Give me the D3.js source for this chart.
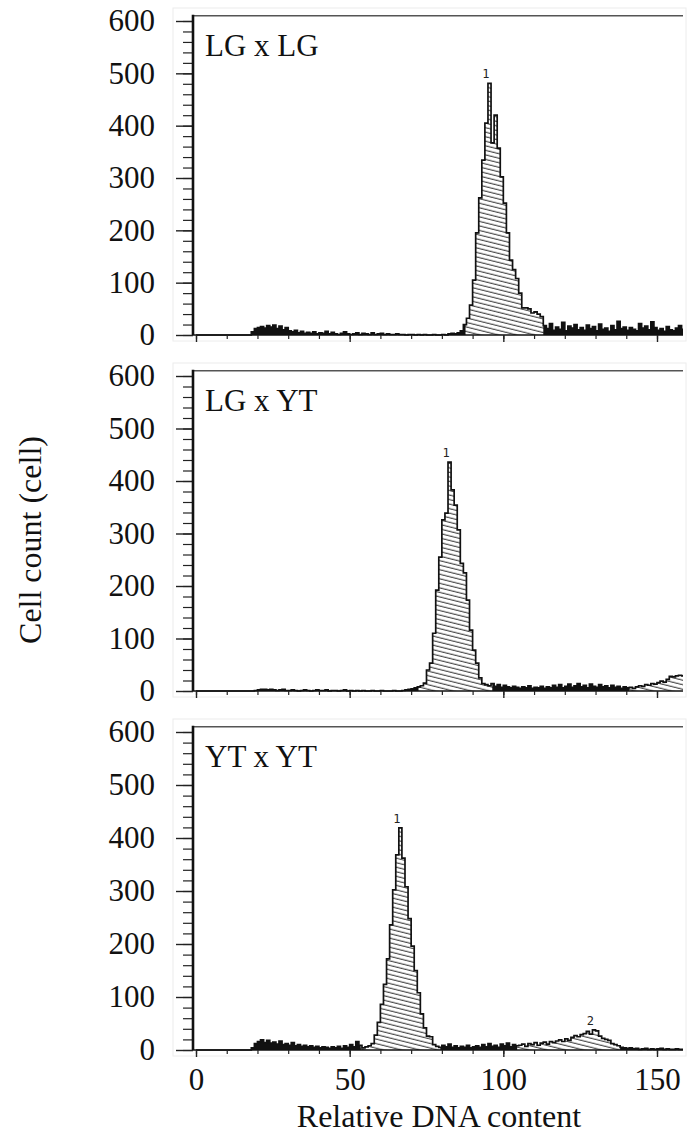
<!DOCTYPE html>
<html>
<head>
<meta charset="utf-8">
<script src="https://cdn.jsdelivr.net/npm/d3@7/dist/d3.min.js"></script>
<style>
  body { margin: 0; background: #fff; }
  svg text { font-family: "Liberation Serif", "Times New Roman", serif; fill: #111; }
</style>
</head>
<body>
<svg id="chart" width="694" height="1137"></svg>
<script>
// cell counts per channel of relative DNA content (channel 0..158)
const countsLGxLG = [
  0,0,0,0,0,0,0,0,0,0,
  0,0,0,0,0,0,0,0,6,12,
  14,16,13,18,15,19,12,17,10,14,
  8,6,9,4,7,3,5,3,6,2,
  4,3,7,2,5,2,1,3,6,2,
  1,2,4,1,3,2,1,4,1,2,
  3,1,2,1,1,2,1,1,0,1,
  1,0,1,0,1,0,0,1,0,0,
  1,0,2,3,2,4,8,20,32,57,
  105,195,262,334,405,481,367,420,357,302,
  252,195,143,125,108,80,52,52,50,42,
  44,40,35,18,12,22,9,15,11,24,
  8,17,13,20,10,14,9,19,12,16,
  8,21,11,13,7,18,10,26,12,15,
  9,14,11,8,22,13,17,10,25,14,
  9,12,7,16,10,8,13,18,11
];
const countsLGxYT = [
  0,0,0,0,0,0,0,0,0,0,
  0,0,0,0,0,0,0,0,0,1,
  2,3,3,2,3,2,1,2,3,1,
  1,2,1,0,1,2,1,0,1,2,
  1,1,2,0,1,1,0,1,2,0,
  1,0,1,0,1,0,0,1,0,0,
  1,0,0,0,1,0,0,1,2,3,
  4,6,8,10,15,40,53,110,192,255,
  326,339,436,383,354,307,243,225,173,116,
  78,53,25,14,12,10,14,9,12,7,
  11,8,6,9,7,5,8,6,10,5,
  7,6,9,5,8,6,11,7,12,6,
  9,13,7,10,14,8,11,6,13,9,
  7,12,8,10,6,11,7,9,5,8,
  6,7,5,8,10,9,12,11,14,13,
  16,19,17,22,28,27,29,30,29
];
const countsYTxYT = [
  0,0,0,0,0,0,0,0,0,0,
  0,0,0,0,0,0,0,0,4,12,
  16,19,14,18,13,15,11,17,10,12,
  9,14,8,10,7,9,6,8,5,7,
  4,6,5,3,6,4,7,3,8,5,
  10,6,16,9,4,6,8,12,28,52,
  86,124,172,236,302,368,419,362,308,248,
  196,150,108,68,42,26,25,10,7,5,
  9,6,11,5,8,4,7,5,9,4,
  6,8,5,10,6,12,7,9,5,11,
  8,13,6,10,8,9,11,7,12,10,
  14,9,13,15,11,16,14,17,19,16,
  21,18,24,27,25,29,31,35,30,38,
  36,26,22,20,18,12,10,8,5,4,
  3,4,2,3,1,2,3,1,2,1,
  2,3,1,2,1,1,2,1,1
];

// gated (hatched) channel ranges
const gatesLGxLG = [[87.7, 113]];
const gatesLGxYT = [[72.4, 96.4], [141, 159]];
const gatesYTxYT = [[53.6, 79.5], [104.5, 138]];

// peak markers: label and channel
const markersLGxLG = [{ label: "1", ch: 95 }];
const markersLGxYT = [{ label: "1", ch: 82 }];
const markersYTxYT = [{ label: "1", ch: 66 }, { label: "2", ch: 129 }];

const panelNames = ["LG x LG", "LG x YT", "YT x YT"];
const yTicks = [0, 100, 200, 300, 400, 500, 600];
const xTicks = [0, 50, 100, 150];
const xTitle = "Relative DNA content";
const yTitle = "Cell count (cell)";

const panels = [
  { name: panelNames[0], counts: countsLGxLG, gates: gatesLGxLG, markers: markersLGxLG, y0: 335, y600: 21 },
  { name: panelNames[1], counts: countsLGxYT, gates: gatesLGxYT, markers: markersLGxYT, y0: 691, y600: 376 },
  { name: panelNames[2], counts: countsYTxYT, gates: gatesYTxYT, markers: markersYTxYT, y0: 1050, y600: 732 }
];

const svg = d3.select("#chart");
const axisX = 193;
const rightX = 683;

const x = d3.scaleLinear().domain([0, 150]).range([196, 657]);
const xMax = x.invert(rightX);

const defs = svg.append("defs");
defs.append("pattern")
  .attr("id", "hatch")
  .attr("patternUnits", "userSpaceOnUse")
  .attr("width", 16).attr("height", 4.4)
  .attr("patternTransform", "rotate(14)")
  .call(p => {
    p.append("rect").attr("width", 16).attr("height", 4.4).attr("fill", "#fff");
    p.append("line").attr("x1", 0).attr("x2", 16).attr("y1", 2).attr("y2", 2)
      .attr("stroke", "#2a2a2a").attr("stroke-width", 1);
  });

panels.forEach((p, pi) => {
  const y = d3.scaleLinear().domain([0, 600]).range([p.y0, p.y600]);
  const g = svg.append("g");

  // faint frame of the pasted panel
  g.append("rect")
    .attr("x", 173).attr("y", y(600) - 13)
    .attr("width", 513).attr("height", p.y0 - y(600) + 19)
    .attr("fill", "none").attr("stroke", "#ececec").attr("stroke-width", 1);

  const bins = p.counts.map((v, i) => ({ ch: i, v: v }));
  bins.push({ ch: Math.min(p.counts.length, xMax), v: p.counts[p.counts.length - 1] });

  const area = d3.area()
    .x(d => x(d.ch)).y0(y(0)).y1(d => y(d.v))
    .curve(d3.curveStepAfter);
  const line = d3.line()
    .x(d => x(d.ch)).y(d => y(d.v))
    .curve(d3.curveStepAfter);

  // clip to the plotting width
  const clipId = "plot" + pi;
  defs.append("clipPath").attr("id", clipId)
    .append("rect").attr("x", x(0)).attr("y", y(620)).attr("width", rightX - x(0)).attr("height", y(0) - y(620) + 1);

  const plot = g.append("g").attr("clip-path", `url(#${clipId})`);
  plot.append("path").attr("d", area(bins)).attr("fill", "#111");

  p.gates.forEach((gate, gi) => {
    const id = `gate${pi}_${gi}`;
    defs.append("clipPath").attr("id", id)
      .append("rect").attr("x", x(gate[0])).attr("y", y(620))
      .attr("width", x(gate[1]) - x(gate[0])).attr("height", y(0) - y(620));
    plot.append("path").attr("d", area(bins)).attr("fill", "url(#hatch)")
      .attr("clip-path", `url(#${id})`);
  });

  plot.append("path").attr("d", line(bins))
    .attr("fill", "none").attr("stroke", "#111").attr("stroke-width", 1.7);

  // peak markers
  p.markers.forEach(m => {
    g.append("text")
      .attr("x", x(m.ch) - 2).attr("y", y(p.counts[m.ch]) - 5)
      .attr("text-anchor", "middle")
      .attr("fill", "#222")
      .style("fill", "#222")
      .style("font-family", "DejaVu Sans Mono, monospace")
      .style("font-size", "12px")
      .text(m.label);
  });

  // top line
  g.append("line")
    .attr("x1", axisX - 1).attr("x2", rightX).attr("y1", y(610)).attr("y2", y(610))
    .attr("stroke", "#555").attr("stroke-width", 1.5);

  // baseline
  g.append("line")
    .attr("x1", axisX).attr("x2", rightX).attr("y1", y(0)).attr("y2", y(0))
    .attr("stroke", "#111").attr("stroke-width", 1.6);

  // y axis
  const gMinor = g.append("g").attr("transform", `translate(${axisX},0)`)
    .call(d3.axisLeft(y).tickValues(d3.range(0, 601, 20)).tickSize(10).tickFormat(""));
  gMinor.select(".domain").remove();
  gMinor.selectAll("line").attr("stroke", "#222").attr("stroke-width", 1.2);

  const gY = g.append("g").attr("transform", `translate(${axisX},0)`)
    .call(d3.axisLeft(y).tickValues(yTicks).tickSize(17).tickPadding(21).tickSizeOuter(0));
  gY.select(".domain").remove();
  gY.selectAll("line").attr("stroke", "#222").attr("stroke-width", 1.4);
  gY.selectAll("text")
    .style("font-family", "Liberation Serif, serif")
    .style("font-size", "31px").attr("fill", "#111");

  g.append("line")
    .attr("x1", axisX).attr("x2", axisX).attr("y1", y(612)).attr("y2", y(0))
    .attr("stroke", "#111").attr("stroke-width", 2.6);

  // x axis ticks
  const gXm = g.append("g").attr("transform", `translate(0,${y(0)})`)
    .call(d3.axisBottom(x).tickValues(d3.range(0, 151, 10)).tickSize(4).tickFormat(""));
  gXm.select(".domain").remove();
  gXm.selectAll("line").attr("stroke", "#222").attr("stroke-width", 1.2);

  const last = pi === panels.length - 1;
  const gX = g.append("g").attr("transform", `translate(0,${y(0)})`)
    .call(d3.axisBottom(x).tickValues(xTicks).tickSize(7).tickPadding(11)
      .tickFormat(last ? d3.format("d") : () => ""));
  gX.select(".domain").remove();
  gX.selectAll("line").attr("stroke", "#222").attr("stroke-width", 1.4);
  gX.selectAll("text")
    .style("font-family", "Liberation Serif, serif")
    .style("font-size", "31px").attr("fill", "#111");

  // panel name
  g.append("text")
    .attr("x", 205).attr("y", y(600) + 35)
    .style("font-size", "31px")
    .text(p.name);
});

svg.append("text")
  .attr("x", 439).attr("y", 1127)
  .attr("text-anchor", "middle")
  .style("font-size", "32px")
  .text(xTitle);

svg.append("text")
  .attr("transform", "translate(41,540) rotate(-90)")
  .attr("text-anchor", "middle")
  .style("font-size", "32px")
  .text(yTitle);
</script>
</body>
</html>
